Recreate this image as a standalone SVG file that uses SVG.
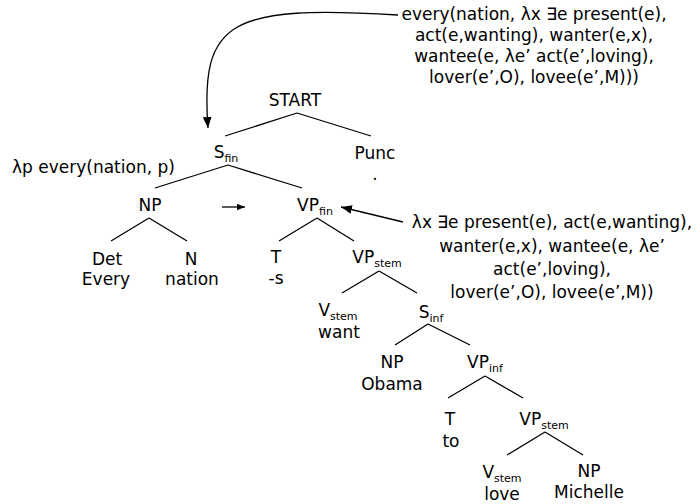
<svg xmlns="http://www.w3.org/2000/svg" width="700" height="504" viewBox="0 0 700 504">
<style>
text{font-family:"DejaVu Sans","Liberation Sans",sans-serif;font-size:17px;fill:#000}
.m{text-anchor:middle}
.sub{font-size:11px}
.e{stroke:#000;stroke-width:1.3;fill:none}
</style>
<defs>
<marker id="ah" viewBox="0 0 10 8" refX="10" refY="4" markerWidth="11" markerHeight="9" markerUnits="userSpaceOnUse" orient="auto"><path d="M0,0 L10,4 L0,8 z" fill="#000"/></marker>
<marker id="ahs" viewBox="0 0 10 8" refX="10" refY="4" markerWidth="8" markerHeight="7" markerUnits="userSpaceOnUse" orient="auto"><path d="M0,0 L10,4 L0,8 z" fill="#000"/></marker>
</defs>
<rect width="700" height="504" fill="#fff"/>
<g id="connectors">
<path class="e" d="M297,113 L225,136 M297,113 L371,136"/>
<path class="e" d="M228,165 L155,188 M228,165 L302,188"/>
<path class="e" d="M149,218 L111,241 M149,218 L187,241"/>
<path class="e" d="M317,218 L279,241 M317,218 L354,241"/>
<path class="e" d="M379,271 L342,293 M379,271 L417,293"/>
<path class="e" d="M428,324 L395,345 M428,324 L470,345"/>
<path class="e" d="M485,376 L448,398 M485,376 L523,398"/>
<path class="e" d="M545,432 L507,455 M545,432 L583,455"/>
<path class="e" d="M398,15 C230,5 200,20 208,128" marker-end="url(#ah)"/>
<path class="e" d="M403,222 L341,207" marker-end="url(#ah)"/>
<path class="e" stroke-width="1.6" d="M222,207 L245,207" marker-end="url(#ahs)"/>
</g>
<g id="sem1"><text class="m" x="534" y="20">every(nation, λx ∃e present(e),</text><text class="m" x="534" y="41">act(e,wanting), wanter(e,x),</text><text class="m" x="534" y="62">wantee(e, λe’ act(e’,loving),</text><text class="m" x="534" y="83">lover(e’,O), lovee(e’,M)))</text></g>
<g id="start"><text class="m" x="295" y="106">START</text></g>
<g id="sfin"><text class="m" x="226" y="158">S<tspan class="sub" dy="4">fin</tspan></text></g>
<g id="punc"><text class="m" x="375" y="159">Punc</text><text class="m" x="375" y="180">.</text></g>
<g id="sem2"><text x="12" y="173">λp every(nation, p)</text></g>
<g id="np1"><text class="m" x="150" y="211">NP</text></g>
<g id="vpfin"><text class="m" x="315" y="211">VP<tspan class="sub" dy="4">fin</tspan></text></g>
<g id="det"><text class="m" x="107" y="265">Det</text><text class="m" x="106" y="285">Every</text></g>
<g id="n"><text class="m" x="191" y="265">N</text><text class="m" x="192" y="285">nation</text></g>
<g id="t1"><text class="m" x="276" y="263">T</text><text class="m" x="276" y="284">-s</text></g>
<g id="vpstem1"><text class="m" x="377" y="263">VP<tspan class="sub" dy="4">stem</tspan></text></g>
<g id="sem3"><text class="m" x="552" y="228">λx ∃e present(e), act(e,wanting),</text><text class="m" x="552" y="252">wanter(e,x), wantee(e, λe’</text><text class="m" x="552" y="275">act(e’,loving),</text><text class="m" x="552" y="298">lover(e’,O), lovee(e’,M))</text></g>
<g id="vstem1"><text class="m" x="338" y="316">V<tspan class="sub" dy="4">stem</tspan></text><text class="m" x="339" y="338">want</text></g>
<g id="sinf"><text class="m" x="431" y="318">S<tspan class="sub" dy="4">inf</tspan></text></g>
<g id="np2"><text class="m" x="392" y="368">NP</text><text class="m" x="392" y="390">Obama</text></g>
<g id="vpinf"><text class="m" x="485" y="368">VP<tspan class="sub" dy="4">inf</tspan></text></g>
<g id="t2"><text class="m" x="450" y="425">T</text><text class="m" x="451" y="447">to</text></g>
<g id="vpstem2"><text class="m" x="544" y="425">VP<tspan class="sub" dy="4">stem</tspan></text></g>
<g id="vstem2"><text class="m" x="502" y="478">V<tspan class="sub" dy="4">stem</tspan></text><text class="m" x="502" y="500">love</text></g>
<g id="np3"><text class="m" x="589" y="477">NP</text><text class="m" x="589" y="498">Michelle</text></g>
</svg>
